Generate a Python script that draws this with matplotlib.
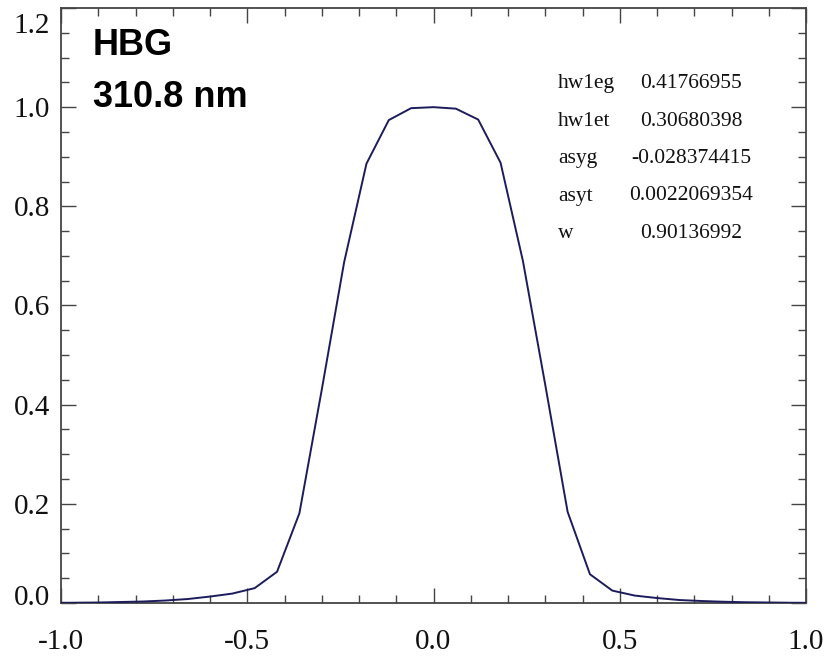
import matplotlib
matplotlib.use("Agg")
import matplotlib.pyplot as plt
import matplotlib.transforms as mtransforms
from matplotlib.ticker import MultipleLocator, FormatStrFormatter

# Sample positions and normalized response
x_vals = [-1.02, -0.96, -0.90, -0.84, -0.78, -0.72, -0.66, -0.60, -0.54, -0.48,
          -0.42, -0.36, -0.30, -0.24, -0.18, -0.12, -0.06, 0.00,
          0.06, 0.12, 0.18, 0.24, 0.30, 0.36, 0.42, 0.48,
          0.54, 0.60, 0.66, 0.72, 0.78, 0.84, 0.90, 0.96, 1.02]
y_vals = [0.0003, 0.0006, 0.001, 0.002, 0.003, 0.005, 0.008, 0.013, 0.019, 0.030,
          0.063, 0.181, 0.430, 0.687, 0.886, 0.974, 0.998, 1.000,
          0.997, 0.975, 0.888, 0.690, 0.440, 0.184, 0.058, 0.025,
          0.015, 0.010, 0.006, 0.004, 0.0025, 0.0015, 0.001, 0.0005, 0.0003]

title_lines = ["HBG", "310.8 nm"]
param_names = ["hw1eg", "hw1et", "asyg", "asyt", "w"]
param_values = ["0.41766955", "0.30680398", "-0.028374415", "0.0022069354", "0.90136992"]

fig = plt.figure(figsize=(8.27, 6.57), dpi=100)
ax = fig.add_axes([61/827, 54/657, 745/827, 595/657])

ax.plot(x_vals, y_vals, color="#1c1c5c", lw=1.4, zorder=3)

ax.set_xlim(-1.0, 1.0)
ax.set_ylim(0.0, 1.2)
ax.xaxis.set_major_locator(MultipleLocator(0.5))
ax.xaxis.set_minor_locator(MultipleLocator(0.1))
ax.yaxis.set_major_locator(MultipleLocator(0.2))
ax.yaxis.set_minor_locator(MultipleLocator(0.05))
ax.xaxis.set_major_formatter(FormatStrFormatter("%.1f"))
ax.yaxis.set_major_formatter(FormatStrFormatter("%.1f"))

spine_col = "#444444"
for s in ax.spines.values():
    s.set_color(spine_col)
    s.set_linewidth(1.3)

ax.tick_params(which="both", direction="in", top=True, right=True,
               color=spine_col, width=1.0)
ax.tick_params(which="major", length=11, pad=8)
ax.tick_params(axis="x", which="major", pad=19)
ax.tick_params(which="minor", length=5.5)
for lbl in ax.get_xticklabels() + ax.get_yticklabels():
    lbl.set_fontfamily("Liberation Serif")
    lbl.set_fontsize(21)
    lbl.set_color("#111111")

# Shift the edge y labels inward (as in the reference)
fig.canvas.draw()
ylabels = ax.get_yticklabels()
for lbl in ylabels:
    t = lbl.get_text()
    if t == "1.2":
        lbl.set_transform(lbl.get_transform() +
                          mtransforms.ScaledTranslation(0, -15/100, fig.dpi_scale_trans))
    elif t == "0.0":
        lbl.set_transform(lbl.get_transform() +
                          mtransforms.ScaledTranslation(0, 8/100, fig.dpi_scale_trans))

# Title text
fig.text(93/827, 1 - 55/657, title_lines[0],
         fontfamily="Liberation Sans", fontweight="bold", fontsize=26,
         ha="left", va="baseline")
fig.text(93/827, 1 - 107/657, title_lines[1],
         fontfamily="Liberation Sans", fontweight="bold", fontsize=26,
         ha="left", va="baseline")

# Parameter table
for i, (n, v) in enumerate(zip(param_names, param_values)):
    yb = 1 - (88 + 37.5 * i) / 657
    fig.text(558/827, yb, n, fontfamily="Liberation Serif", fontsize=15.5,
             ha="left", va="baseline", color="#111111")
    fig.text(691/827, yb, v, fontfamily="Liberation Serif", fontsize=15.5,
             ha="center", va="baseline", color="#111111")

fig.savefig("out.png", dpi=100)
